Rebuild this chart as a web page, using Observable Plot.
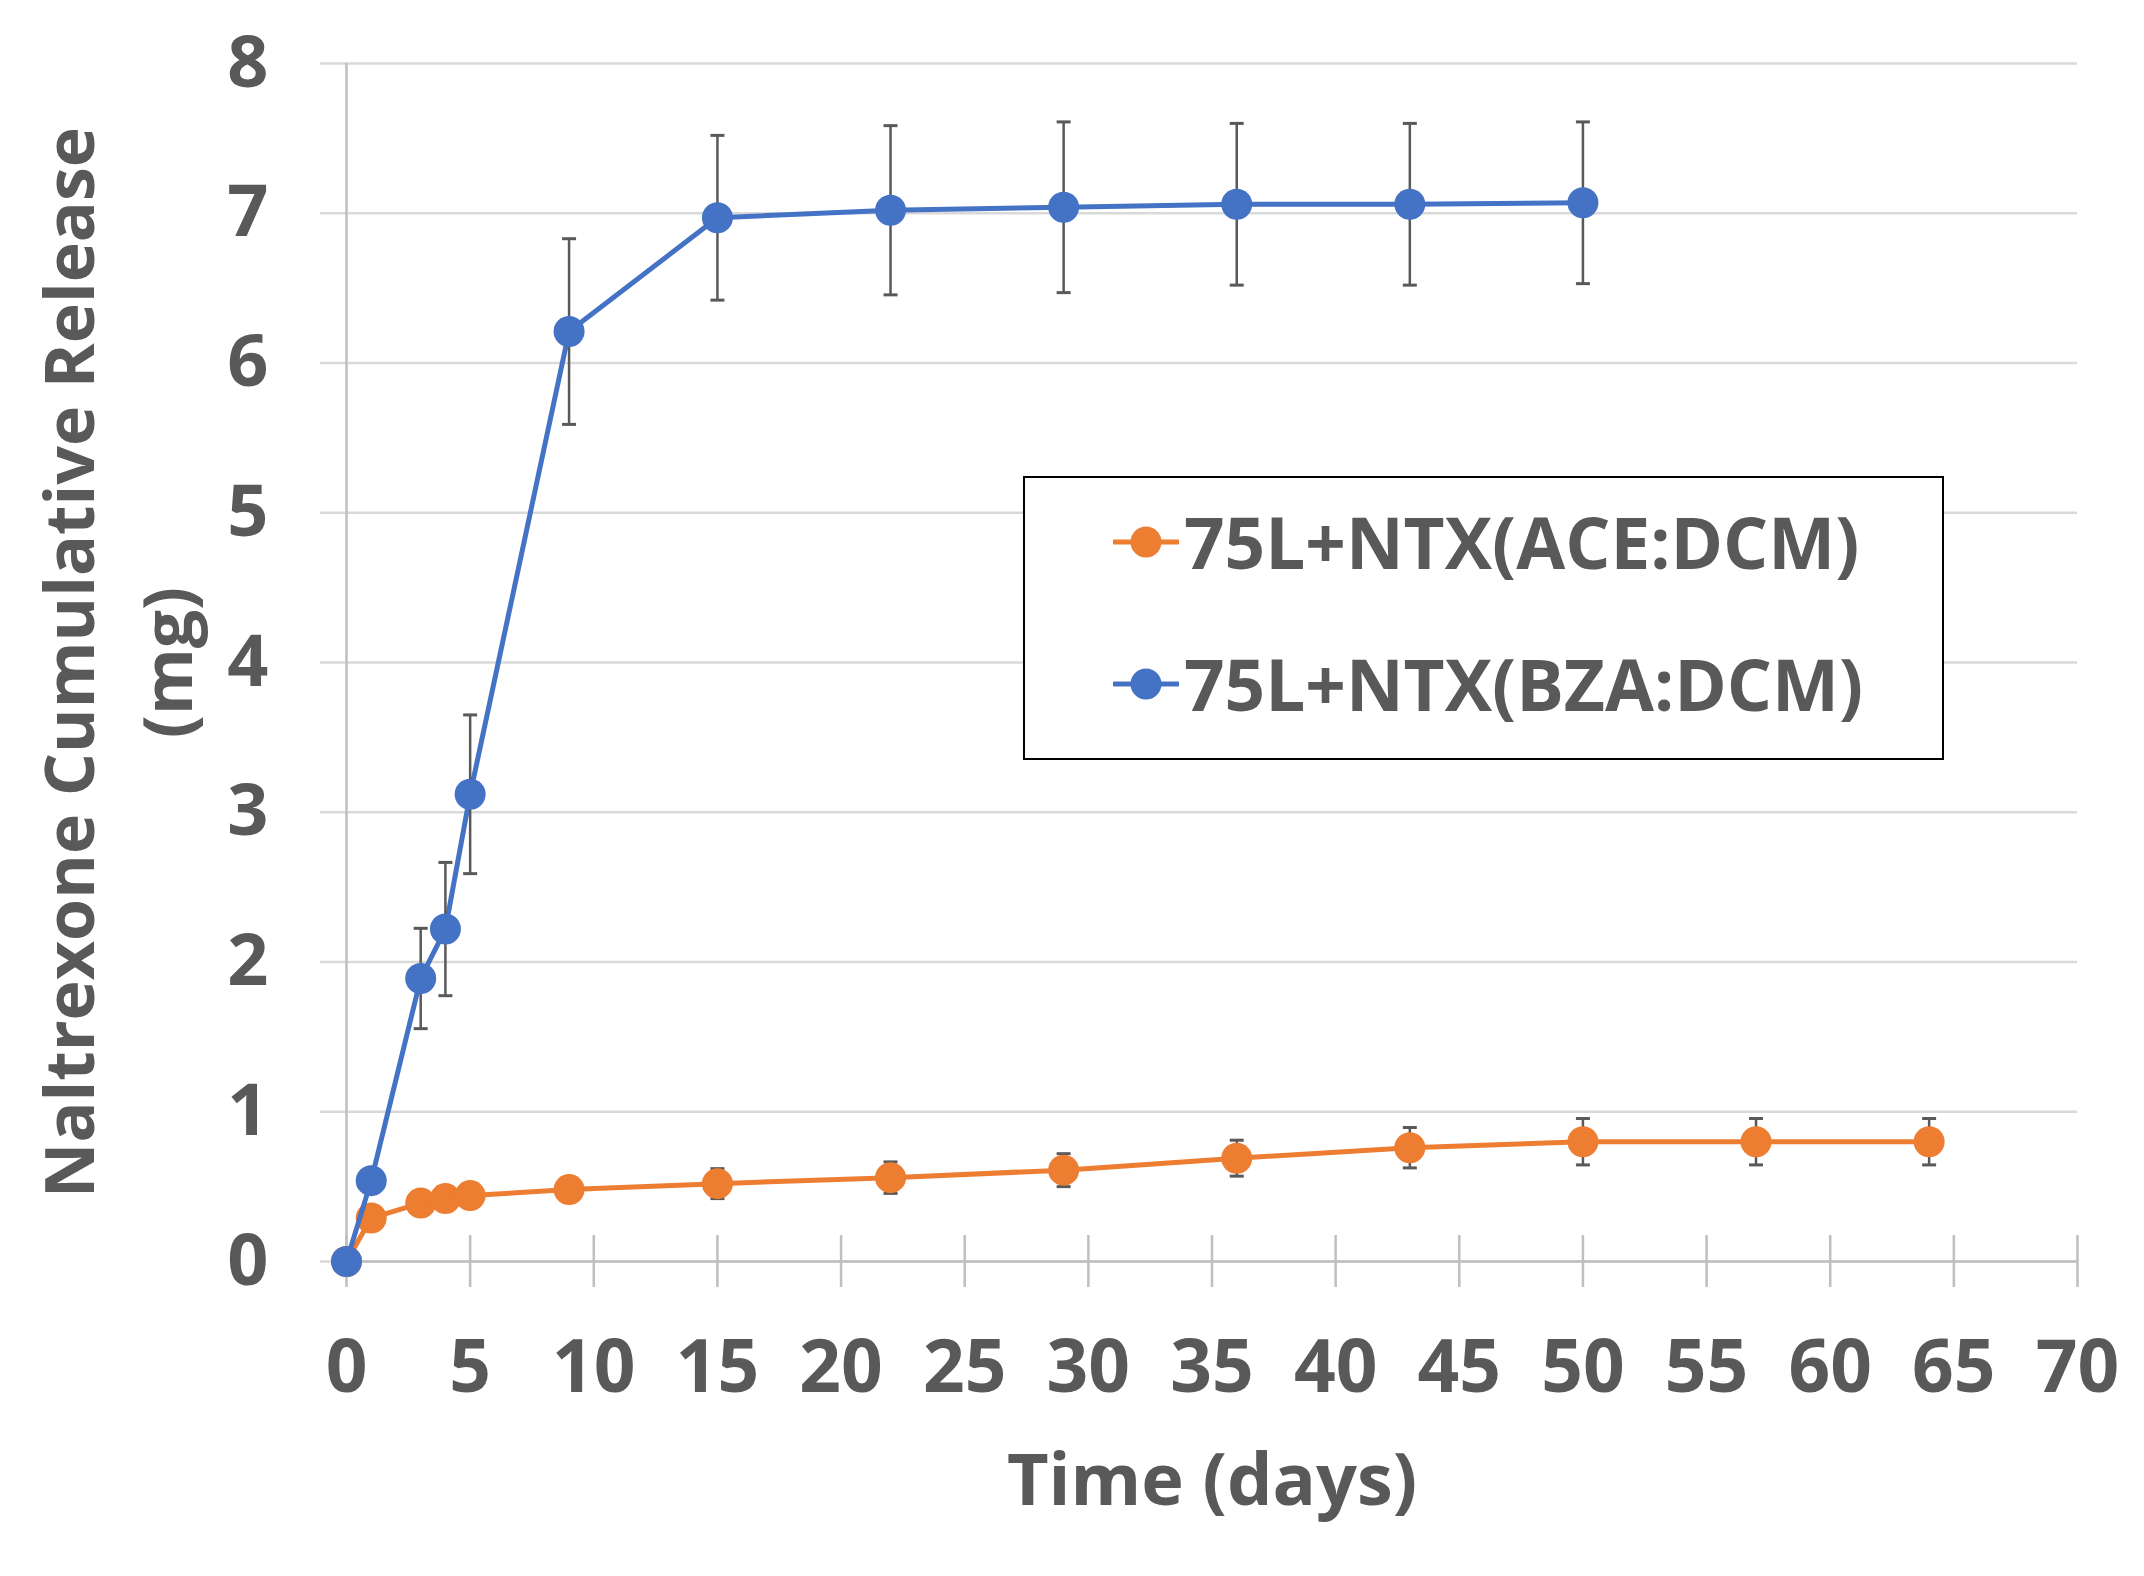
<!DOCTYPE html>
<html>
<head>
<meta charset="utf-8">
<script src="https://cdn.jsdelivr.net/npm/d3@7"></script>
<script src="https://cdn.jsdelivr.net/npm/@observablehq/plot@0.6"></script>
<style>
  body { margin: 0; background: #fff; }
  #wrap { position: relative; width: 2144px; height: 1576px; font-family: "Open Sans", sans-serif; }
  #legend { position: absolute; left: 1023px; top: 476px; width: 921px; height: 284px; box-sizing: border-box;
            border: 2.5px solid #000; background: #fff; }
  .row { position: absolute; left: 88px; height: 100px; display: flex; align-items: center; }
  .row span { font-size: 71px; font-weight: 700; color: #595959; line-height: 100px; margin-left: 5px; white-space: nowrap; }
</style>
</head>
<body>
<div id="wrap"><div id="chart"></div><div id="legend"></div></div>
<script>
// ---- data ----
const aceDays = [0, 1, 3, 4, 5, 9, 15, 22, 29, 36, 43, 50, 57, 64];
const aceMean = [0, 0.29, 0.39, 0.42, 0.44, 0.48, 0.52, 0.56, 0.61, 0.69, 0.76, 0.80, 0.80, 0.80];
const aceErr  = [0, 0.02, 0.03, 0.03, 0.03, 0.04, 0.10, 0.105, 0.11, 0.12, 0.135, 0.155, 0.155, 0.155];
const bzaDays = [0, 1, 3, 4, 5, 9, 15, 22, 29, 36, 43, 50];
const bzaMean = [0, 0.54, 1.89, 2.22, 3.12, 6.21, 6.97, 7.02, 7.04, 7.06, 7.06, 7.07];
const bzaErr  = [0, 0.03, 0.335, 0.445, 0.53, 0.62, 0.55, 0.565, 0.57, 0.54, 0.54, 0.54];
const seriesNames = ["75L+NTX(ACE:DCM)", "75L+NTX(BZA:DCM)"];
const seriesColors = ["#ED7D31", "#4472C4"];
const xTicks = [0, 5, 10, 15, 20, 25, 30, 35, 40, 45, 50, 55, 60, 65, 70];
const yTicks = [0, 1, 2, 3, 4, 5, 6, 7, 8];
const xTitle = "Time (days)";
const yTitle = "Naltrexone Cumulative Release\n(mg)";

const ace = aceDays.map((d, i) => ({day: d, mean: aceMean[i], err: aceErr[i]}));
const bza = bzaDays.map((d, i) => ({day: d, mean: bzaMean[i], err: bzaErr[i]}));

const capSymbol = {
  draw(ctx, size) {
    const r = Math.sqrt(size / Math.PI);
    ctx.moveTo(-r, 0); ctx.lineTo(r, 0);
  }
};

function seriesMarks(data, color) {
  const withErr = data.filter(d => d.err > 0);
  return [
    Plot.line(data, {x: "day", y: "mean", stroke: color, strokeWidth: 5}),
    Plot.ruleX(withErr, {x: "day", y1: d => d.mean - d.err, y2: d => d.mean + d.err, stroke: "#595959", strokeWidth: 2.5}),
    Plot.dot(withErr, {x: "day", y: d => d.mean + d.err, symbol: capSymbol, r: 7, stroke: "#595959", strokeWidth: 3, fill: "none"}),
    Plot.dot(withErr, {x: "day", y: d => d.mean - d.err, symbol: capSymbol, r: 7, stroke: "#595959", strokeWidth: 3, fill: "none"}),
    Plot.dot(data, {x: "day", y: "mean", r: 15.5, fill: color, stroke: "none"})
  ];
}

const chart = Plot.plot({
  width: 2144,
  height: 1576,
  marginLeft: 346,
  marginRight: 67,
  marginTop: 63,
  marginBottom: 315,
  style: {fontFamily: "'Open Sans', sans-serif", fontSize: "72px", fontWeight: 700, color: "#595959", background: "transparent"},
  x: {domain: [0, 70]},
  y: {domain: [0, 8]},
  marks: [
    Plot.gridY(yTicks, {stroke: "#d9d9d9", strokeOpacity: 1, strokeWidth: 2.5}),
    Plot.axisY(yTicks, {tickSize: 26, tickPadding: 52, stroke: "#d9d9d9", strokeWidth: 2.5, fill: "#595959",
                        tickFormat: d => String(d), label: null}),
    Plot.ruleY([0], {stroke: "#bfbfbf", strokeWidth: 2.5}),
    Plot.ruleX([0], {stroke: "#bfbfbf", strokeWidth: 2.5}),
    Plot.axisX(xTicks, {tickSize: 52, dy: -26, stroke: "#bfbfbf", strokeWidth: 2.5, fill: "none",
                        tickFormat: () => "", label: null}),
    Plot.axisX(xTicks, {tickSize: 0, tickPadding: 79, fill: "#595959", fontSize: 73, tickFormat: d => String(d), label: null}),
    Plot.text([xTitle], {frameAnchor: "bottom", dy: 220, lineAnchor: "middle", fill: "#595959"}),
    Plot.text([yTitle], {frameAnchor: "left", dx: -322, rotate: -90, textAnchor: "middle", lineAnchor: "top",
                         fontSize: 68, lineHeight: 1.44, fill: "#595959"}),
    ...seriesMarks(ace, seriesColors[0]),
    ...seriesMarks(bza, seriesColors[1])
  ]
});
document.getElementById("chart").appendChild(chart);

// ---- legend (HTML) ----
const legend = d3.select("#legend");
const rowTops = [14, 156];
seriesNames.forEach((name, i) => {
  const row = legend.append("div").attr("class", "row").style("top", rowTops[i] + "px");
  const sw = row.append("svg").attr("width", 66).attr("height", 40);
  sw.append("line").attr("x1", 1).attr("x2", 65).attr("y1", 20).attr("y2", 20)
    .attr("stroke", seriesColors[i]).attr("stroke-width", 5).attr("stroke-linecap", "round");
  sw.append("circle").attr("cx", 33).attr("cy", 20).attr("r", 15.5).attr("fill", seriesColors[i]);
  row.append("span").text(name);
});
</script>
</body>
</html>
